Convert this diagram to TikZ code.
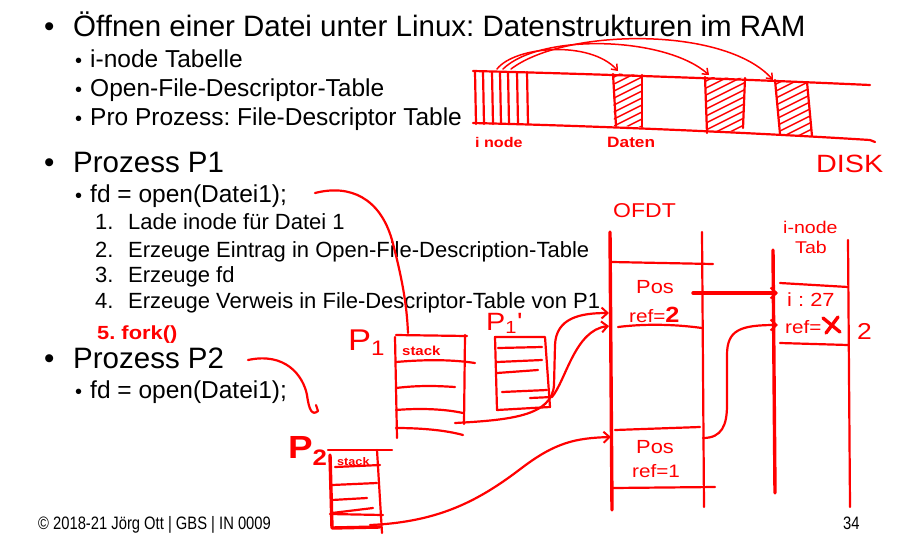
\documentclass[tikz,border=0pt]{standalone}
\usepackage{fontspec}
\usepackage{graphicx}
\setmainfont{Liberation Sans}
\newfontfamily\handfont[FakeStretch=1.15]{Liberation Sans}
\usetikzlibrary{arrows.meta}
\definecolor{ink}{RGB}{255,0,0}
\frenchspacing
\begin{document}
\begin{tikzpicture}[x=1pt,y=-1pt,
  lvlone/.style={anchor=base west,inner sep=0pt,font=\fontsize{29.5}{32}\selectfont},
  lvltwo/.style={anchor=base west,inner sep=0pt,font=\fontsize{24.5}{28}\selectfont},
  bultwo/.style={anchor=base west,inner sep=0pt,font=\fontsize{20}{24}\selectfont},
  lvlthree/.style={anchor=base west,inner sep=0pt,font=\fontsize{22}{26}\selectfont},
  pen/.style={draw=ink,line width=2.2pt,line cap=round,line join=round},
  finepen/.style={draw=ink,line width=1.5pt,line cap=round,line join=round},
  boldpen/.style={draw=ink,line width=3.4pt,line cap=round,line join=round},
  tipA/.style={-{Straight Barb[length=6pt,width=11pt,line width=2pt]}},
  tipB/.style={-{Straight Barb[length=5pt,width=8pt,line width=1.5pt]}},
  hand/.style={text=ink,anchor=base west,inner sep=0pt,font=\handfont\fontsize{#1}{#1}\selectfont},
  handbold/.style={text=ink,anchor=base west,inner sep=0pt,font=\handfont\bfseries\fontsize{#1}{#1}\selectfont},
]
\useasboundingbox (0,0) rectangle (912,547);

% ---------------- slide text ----------------
\node[lvlone] (bulA) at (44,36) {\textbullet};
\node[lvlone] (tA) at (73,36) {Öffnen einer Datei unter Linux: Datenstrukturen im RAM};
\node[bultwo] (bulA1) at (75,67) {\textbullet};
\node[lvltwo] (tA1) at (90,67) {i-node Tabelle};
\node[bultwo] (bulA2) at (75,96) {\textbullet};
\node[lvltwo] (tA2) at (90,96) {Open-File-Descriptor-Table};
\node[bultwo] (bulA3) at (75,125) {\textbullet};
\node[lvltwo] (tA3) at (90,125) {Pro Prozess: File-Descriptor Table};

\node[lvlone] (bulB) at (44,172) {\textbullet};
\node[lvlone] (tB) at (73,172) {Prozess P1};
\node[bultwo] (bulB1) at (75,202) {\textbullet};
\node[lvltwo] (tB1) at (90,202) {fd = open(Datei1);};
\node[lvlthree] (nB1) at (95,229) {1.};
\node[lvlthree] (sB1) at (128,229) {Lade inode für Datei 1};
\node[lvlthree] (nB2) at (95,257) {2.};
\node[lvlthree] (sB2) at (128,257) {Erzeuge Eintrag in Open-File-Description-Table};
\node[lvlthree] (nB3) at (95,282) {3.};
\node[lvlthree] (sB3) at (128,282) {Erzeuge fd};
\node[lvlthree] (nB4) at (95,308) {4.};
\node[lvlthree] (sB4) at (128,308) {Erzeuge Verweis in File-Descriptor-Table von P1};

\node[lvlone] (bulC) at (44,368) {\textbullet};
\node[lvlone] (tC) at (73,368) {Prozess P2};
\node[bultwo] (bulC1) at (75,398) {\textbullet};
\node[lvltwo] (tC1) at (90,398) {fd = open(Datei1);};

\node[anchor=base west,inner sep=0pt,font=\fontsize{18}{20}\selectfont] (foot) at (38,529)
  {\scalebox{0.82}[1]{© 2018-21 Jörg Ott | GBS | IN 0009}};
\node[anchor=base west,inner sep=0pt,font=\fontsize{18}{20}\selectfont] (page) at (843,529)
  {\scalebox{0.82}[1]{34}};

% ---------------- handwritten: 5. fork() ----------------
\node[handbold=19] (fork) at (97,339) {5.\ fork()};

% ---------------- DISK ----------------
\draw[pen] (473,71) .. controls (600,74) and (760,80) .. (870,85);
\draw[pen] (473,123) .. controls (600,126) and (760,133) .. (870,140) -- (875,142);
\foreach \x in {475,483,492,500,508,517,527}
  \draw[pen] (\x,72) -- (\x+1,124);
% data block 1
\begin{scope}
  \clip (613,73) -- (642,75) -- (642,127) -- (614,126) -- cycle;
  \foreach \k in {0,...,13} \draw[finepen] (600,70+7*\k) -- (660,40+7*\k);
\end{scope}
\draw[pen] (613,74) -- (616,126);
\draw[pen] (642,75) -- (642,127);
% data block 2
\begin{scope}
  \clip (705,77) -- (745,78) -- (743,131) -- (707,133) -- cycle;
  \foreach \k in {0,...,16} \draw[finepen] (690,75+7*\k) -- (760,40+7*\k);
\end{scope}
\draw[pen] (705,77) -- (707,133);
\draw[pen] (745,78) -- (743,128);
% data block 3
\begin{scope}
  \clip (775,80) -- (807,82) -- (812,136) -- (780,134) -- cycle;
  \foreach \k in {0,...,15} \draw[finepen] (760,78+7*\k) -- (830,43+7*\k);
\end{scope}
\draw[pen] (775,80) -- (780,134);
\draw[pen] (807,82) -- (812,136);

\coordinate (inA) at (497,69);
\coordinate (inB) at (503,69);
\coordinate (inC) at (511,69);
\coordinate (dA) at (618,71);
\coordinate (dB) at (709,75);
\coordinate (dC) at (773,80);
\draw[finepen,tipB] (inA) .. controls (515,46) and (590,40) .. (dA);
\draw[finepen,tipB] (inB) .. controls (540,33) and (665,36) .. (dB);
\draw[finepen,tipB] (inC) .. controls (565,28) and (725,26) .. (dC);

\node[handbold=14] (lblInode) at (475,147) {i node};
\node[handbold=15] (lblDaten) at (607,147) {Daten};
\node[hand=25] (lblDisk) at (816,172) {DISK};

% ---------------- OFDT ----------------
\node[hand=20] (lblOfdt) at (613,217) {OFDT};
\draw[boldpen] (610,232) -- (612,510);
\draw[pen] (702,232) -- (704,507);
\draw[pen] (612,262) -- (713,264);
\draw[pen] (618,327) .. controls (650,323) and (680,325) .. (702,328);
\draw[pen] (615,430) -- (700,427);
\draw[pen] (612,488) -- (715,487);
\node[hand=19] (pos1) at (636,293) {Pos};
\node[hand=18] (ref1) at (629,322) {ref=\bfseries\fontsize{22}{22}\selectfont 2};
\node[hand=19] (pos2) at (636,453) {Pos};
\node[hand=18] (ref2) at (632,477) {ref=1};

% ---------------- i-node table ----------------
\node[hand=17] (lblInodeT) at (783,233) {i-node};
\node[hand=17] (lblTab) at (795,253) {Tab};
\draw[boldpen] (773,250) -- (775,493);
\draw[pen] (848,240) -- (850,507);
\draw[pen] (780,283) -- (848,287);
\draw[pen] (780,343) -- (848,345);
\node[hand=19] (inum) at (787,306) {i : 27};
\node[hand=18] (iref) at (785,333) {ref=};
\draw[boldpen] (823,318) -- (840,332);
\draw[boldpen] (838,317) -- (826,333);
\node[hand=23] (two) at (857,339) {2};

\coordinate (ofTop) at (693,293);
\coordinate (inTop) at (778,293);
\draw[boldpen,tipA] (ofTop) -- (inTop);
\coordinate (ofBot) at (703,438);
\coordinate (inRef) at (778,325);
\draw[pen,tipA] (ofBot) .. controls (722,438) and (727,425) .. (727,405) -- (727,355)
  .. controls (727,330) and (740,325) .. (inRef);

% ---------------- P1 stack ----------------
\node[hand=30] (lblP1) at (348,350) {P\textsubscript{1}};
\draw[pen] (395,337) -- (397,438);
\draw[pen] (465,335) -- (464,424);
\draw[pen] (396,335) -- (467,336);
\draw[pen] (396,362) .. controls (430,359) and (455,360) .. (475,363);
\draw[pen] (396,388) .. controls (420,385) and (440,386) .. (455,387);
\draw[pen] (396,410) .. controls (420,408) and (445,409) .. (463,413);
\draw[pen] (396,428) .. controls (420,428) and (445,430) .. (463,435);
\node[handbold=13] (lblStack1) at (402,355) {stack};

\coordinate (fdP1) at (315,193);
\coordinate (stTop) at (408,333);
\draw[pen] (fdP1) .. controls (350,184) and (380,198) .. (392,240)
  .. controls (404,285) and (407,310) .. (stTop);

% ---------------- P1' table ----------------
\node[hand=25] (lblP1b) at (486,330) {P\textsubscript{1}'};
\draw[pen] (495,337) -- (545,337) -- (550,407) -- (497,410) -- cycle;
\draw[pen] (498,348) -- (542,347);
\draw[pen] (497,362) -- (542,360);
\draw[pen] (497,373) -- (538,370);
\draw[pen] (502,392) -- (547,390);

\coordinate (sA) at (455,423);
\coordinate (sB) at (530,398);
\coordinate (ofA) at (609,313);
\coordinate (ofB) at (609,326);
\draw[pen,tipA] (sA) .. controls (510,420) and (552,416) .. (554,385) -- (555,345)
  .. controls (556,318) and (580,313) .. (ofA);
\draw[pen,tipA] (sB) -- (552,397) .. controls (566,380) and (575,330) .. (ofB);

% ---------------- P2 ----------------
\coordinate (fdP2) at (248,360);
\coordinate (hookP2) at (318,411);
\draw[pen] (fdP2) .. controls (285,352) and (303,375) .. (307,395)
  .. controls (309,410) and (312,416) .. (hookP2) -- (316,405);

\node[handbold=32] (lblP2) at (288,458) {P\textsubscript{2}};
\draw[boldpen] (330,455) -- (332,528) -- (380,527);
\draw[pen] (328,450) -- (392,450);
\draw[pen] (377,450) -- (382,533);
\draw[pen] (335,467) -- (380,465);
\draw[pen] (332,485) -- (377,483);
\draw[pen] (332,500) -- (367,498);
\draw[pen] (332,513) -- (373,508);
\draw[pen] (330,514) -- (383,515);
\node[handbold=11] (lblStack2) at (337,465) {stack};

\coordinate (sC) at (370,525);
\coordinate (ofC) at (611,437);
\draw[pen,tipA] (sC) .. controls (440,522) and (480,500) .. (523,467)
  .. controls (555,443) and (575,438) .. (ofC);
\end{tikzpicture}
\end{document}
